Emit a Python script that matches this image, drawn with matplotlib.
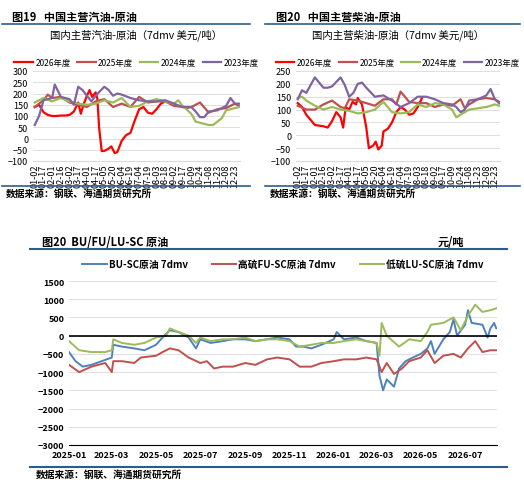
import matplotlib.pyplot as plt
import matplotlib.dates as mdates
import numpy as np
import pandas as pd

plt.rcParams['font.family'] = ['Noto Sans CJK SC', 'DejaVu Sans']

# ---- top charts: x in tick-index units ----
ticks = ['01-02', '01-17', '02-01', '02-16', '03-02', '03-17', '04-01', '04-17', '05-05', '05-20',
         '06-04', '06-19', '07-04', '07-19', '08-03', '08-18', '09-02', '09-17', '10-09', '10-24',
         '11-08', '11-23', '12-08', '12-23']

gas_2026_x = [0, 0.5, 1, 1.5, 2, 2.5, 3, 3.5, 4, 4.5, 5, 5.3, 5.6, 6, 6.3, 6.6, 7, 7.2, 7.4, 7.7, 8, 8.5, 8.8, 9.2, 9.5, 10, 10.5, 11, 11.5, 12, 12.5, 13, 13.5, 14, 14.5, 15]
gas_2026_y = [140, 150, 117, 105, 100, 100, 102, 102, 105, 120, 160, 110, 150, 190, 215, 185, 205, 177, 49, -56, -55, -45, -35, -65, -60, -10, 15, 25, 80, 130, 140, 115, 110, 130, 155, 165]
gas_2025_x = [0, 1, 1.5, 2, 3, 4, 5, 6, 7, 8, 9, 10, 11, 12, 13, 14, 15, 16, 17, 17.5, 18, 19, 20, 21, 22, 23, 23.5]
gas_2025_y = [140, 170, 195, 180, 185, 160, 150, 140, 165, 175, 140, 155, 140, 185, 160, 165, 165, 145, 140, 135, 140, 160, 115, 130, 135, 155, 145]
gas_2024_x = [0, 1, 2, 3, 4, 5, 6, 7, 8, 9, 10, 11, 12, 13, 14, 15, 16, 16.5, 17, 18, 18.5, 19, 19.5, 20, 20.5, 21, 21.5, 22, 23, 23.5]
gas_2024_y = [160, 180, 165, 180, 165, 155, 150, 155, 170, 160, 180, 140, 145, 165, 175, 165, 155, 170, 145, 110, 75, 70, 65, 60, 60, 75, 90, 125, 135, 140]
gas_2023_x = [0, 0.5, 1, 2, 2.3, 3, 4, 4.5, 5, 5.5, 6, 6.5, 7, 8, 8.5, 9, 9.5, 10, 11, 12, 13, 14, 15, 16, 17, 18, 18.5, 19, 19.5, 20, 21, 22, 22.5, 23, 23.5]
gas_2023_y = [60, 100, 170, 180, 240, 185, 175, 150, 230, 215, 190, 165, 190, 230, 215, 190, 200, 195, 180, 170, 165, 165, 170, 155, 140, 140, 120, 95, 95, 120, 125, 145, 180, 155, 155]

die_2026_x = [0, 0.5, 1, 1.5, 2, 3, 3.5, 4, 4.5, 5, 5.3, 5.6, 6, 6.4, 6.8, 7, 7.5, 8, 8.3, 8.8, 9.1, 9.4, 9.8, 10, 10.5, 11, 11.5, 12, 12.5, 13, 13.5, 14, 14.5]
die_2026_y = [125, 110, 80, 60, 40, 35, 30, 55, 90, 70, 30, 110, 100, 130, 120, 145, 120, 30, -50, -40, -25, -55, -40, 15, 25, 50, 90, 110, 100, 80, 85, 110, 145]
die_2025_x = [0, 1, 2, 3, 4, 5, 5.5, 6, 7, 8, 9, 10, 11, 11.5, 12, 13, 14, 15, 16, 17, 18, 19, 19.5, 20, 21, 22, 23, 23.5]
die_2025_y = [115, 100, 100, 120, 135, 110, 105, 140, 135, 125, 115, 140, 140, 120, 170, 130, 125, 125, 110, 120, 115, 140, 105, 120, 140, 145, 140, 130]
die_2024_x = [0, 0.5, 1, 2, 3, 4, 5, 6, 7, 8, 9, 10, 11, 12, 13, 14, 15, 16, 17, 18, 18.5, 19, 20, 21, 22, 23, 23.5]
die_2024_y = [145, 150, 135, 115, 100, 110, 100, 95, 85, 90, 100, 130, 90, 85, 90, 120, 110, 125, 120, 100, 70, 80, 100, 105, 110, 120, 115]
die_2023_x = [0, 0.5, 1, 2, 3, 3.5, 4, 5, 5.5, 6, 6.5, 7, 7.5, 8, 9, 10, 11, 12, 13, 14, 15, 16, 17, 18, 18.5, 19, 19.5, 20, 21, 22, 22.5, 23, 23.5]
die_2023_y = [140, 175, 165, 225, 185, 185, 190, 225, 195, 150, 165, 200, 205, 185, 150, 155, 135, 110, 125, 150, 150, 140, 125, 120, 110, 90, 100, 135, 140, 155, 180, 140, 125]

# ---- bottom chart ----
bu_d = ['2025-01-01', '2025-01-10', '2025-01-20', '2025-02-01', '2025-02-15', '2025-03-01', '2025-03-03', '2025-03-15', '2025-04-01', '2025-04-15', '2025-05-01', '2025-05-10', '2025-05-20', '2025-06-01', '2025-06-15', '2025-06-25', '2025-07-01', '2025-07-15', '2025-08-01', '2025-08-15', '2025-09-01', '2025-09-15', '2025-10-01', '2025-10-15', '2025-11-01', '2025-11-10', '2025-11-20', '2025-12-01', '2025-12-15', '2026-01-01', '2026-01-05', '2026-01-15', '2026-02-01', '2026-02-15', '2026-03-01', '2026-03-05', '2026-03-10', '2026-03-15', '2026-03-25', '2026-04-01', '2026-04-10', '2026-04-20', '2026-05-01', '2026-05-10', '2026-05-15', '2026-05-20', '2026-06-01', '2026-06-10', '2026-06-15', '2026-06-20', '2026-07-01', '2026-07-05', '2026-07-10', '2026-07-25', '2026-08-01', '2026-08-05', '2026-08-10', '2026-08-13']
bu_v = [-450, -700, -850, -800, -700, -600, -250, -300, -350, -400, -250, -50, 150, 100, -50, -350, -100, -200, -150, -100, -100, -150, -100, -50, -100, -300, -300, -350, -250, -100, 100, -100, -50, -150, -200, -1100, -1500, -1200, -1400, -900, -700, -600, -500, -350, -150, -500, -100, 100, 450, 0, 300, 700, 350, 300, -50, 200, 350, 200]
fu_d = ['2025-01-01', '2025-01-15', '2025-02-01', '2025-02-20', '2025-03-01', '2025-03-03', '2025-03-15', '2025-04-01', '2025-04-10', '2025-05-01', '2025-05-10', '2025-05-20', '2025-06-01', '2025-06-15', '2025-07-01', '2025-07-10', '2025-07-20', '2025-08-01', '2025-08-15', '2025-09-01', '2025-09-15', '2025-10-01', '2025-10-15', '2025-11-01', '2025-11-15', '2025-12-01', '2025-12-15', '2026-01-01', '2026-01-15', '2026-02-01', '2026-02-15', '2026-03-01', '2026-03-08', '2026-03-15', '2026-03-25', '2026-04-05', '2026-04-15', '2026-05-01', '2026-05-10', '2026-05-20', '2026-06-01', '2026-06-15', '2026-06-25', '2026-07-05', '2026-07-15', '2026-07-25', '2026-08-05', '2026-08-13']
fu_v = [-800, -1000, -850, -750, -1000, -700, -700, -750, -600, -550, -450, -350, -400, -600, -750, -700, -900, -850, -850, -750, -800, -650, -600, -650, -850, -850, -750, -700, -650, -650, -600, -650, -1000, -750, -1050, -900, -700, -600, -400, -750, -550, -500, -600, -350, -150, -450, -400, -400]
lu_d = ['2025-01-01', '2025-01-15', '2025-02-01', '2025-02-20', '2025-03-01', '2025-03-03', '2025-03-15', '2025-04-01', '2025-04-15', '2025-05-01', '2025-05-15', '2025-05-20', '2025-06-01', '2025-06-15', '2025-06-25', '2025-07-01', '2025-07-15', '2025-08-01', '2025-08-15', '2025-09-01', '2025-09-15', '2025-10-01', '2025-10-15', '2025-11-01', '2025-11-15', '2025-12-01', '2025-12-15', '2026-01-01', '2026-01-15', '2026-02-01', '2026-02-15', '2026-03-01', '2026-03-05', '2026-03-08', '2026-03-15', '2026-04-01', '2026-04-15', '2026-05-01', '2026-05-10', '2026-05-15', '2026-06-01', '2026-06-15', '2026-06-25', '2026-07-05', '2026-07-15', '2026-07-25', '2026-08-05', '2026-08-13']
lu_v = [-150, -400, -450, -450, -400, -100, -200, -250, -200, -50, 0, 200, 100, 0, -200, -50, -150, -100, -100, -50, -150, -100, -100, -150, -300, -250, -200, -200, -150, -100, -150, -200, -550, 350, 0, -300, -100, -150, 100, 300, 350, 500, 150, 550, 850, 650, 700, 750]

RED, BROWN, GREEN, PURPLE, BLUE = '#ff0000', '#c0504d', '#9bbb59', '#8064a2', '#4f81bd'
NAVY = '#2e5c8a'

W, H = 524, 502
fig = plt.figure(figsize=(W / 100, H / 100), dpi=100)


def px_axes(x0, y0, x1, y1):
    return fig.add_axes([x0 / W, 1 - y1 / H, (x1 - x0) / W, (y1 - y0) / H])


def hline(x0, x1, y, lw=2):
    fig.add_artist(plt.Line2D([x0 / W, x1 / W], [1 - y / H, 1 - y / H], color=NAVY, lw=lw))


def top_panel(x0, x1, fig_title, title, series, ylim, yt):
    ax = px_axes(x0, 72, x1, 162)
    for xs, ys, c, lab in series:
        ax.plot(xs, ys, color=c, lw=1.6, label=lab)
    ax.set_ylim(*ylim)
    ax.set_yticks(yt)
    ax.set_xlim(-0.2, 23.6)
    ax.set_xticks(range(len(ticks)))
    ax.set_xticklabels(ticks, rotation=90, fontsize=6.5)
    ax.tick_params(axis='y', labelsize=6.5, length=0)
    ax.tick_params(axis='x', length=0, pad=2)
    ax.grid(axis='y', color='#d9d9d9', lw=0.6)
    for s in ['top', 'right', 'left']:
        ax.spines[s].set_visible(False)
    ax.spines['bottom'].set_color('#d9d9d9')
    ax.set_title(title, fontsize=7.5, pad=24)
    ax.legend(loc='lower center', bbox_to_anchor=(0.5, 1.0), ncol=4, fontsize=6, frameon=False,
              handlelength=2.2, columnspacing=0.8, handletextpad=0.3, borderaxespad=0.1)
    return ax


top_panel(33, 240, '', '国内主营汽油-原油（7dmv 美元/吨）',
          [(gas_2026_x, gas_2026_y, RED, '2026年度'), (gas_2025_x, gas_2025_y, BROWN, '2025年度'),
           (gas_2024_x, gas_2024_y, GREEN, '2024年度'), (gas_2023_x, gas_2023_y, PURPLE, '2023年度')],
          (-100, 300), range(-100, 301, 50))
top_panel(296, 500, '', '国内主营柴油-原油（7dmv 美元/吨）',
          [(die_2026_x, die_2026_y, RED, '2026年度'), (die_2025_x, die_2025_y, BROWN, '2025年度'),
           (die_2024_x, die_2024_y, GREEN, '2024年度'), (die_2023_x, die_2023_y, PURPLE, '2023年度')],
          (-100, 250), range(-100, 251, 50))

fig.text(12 / W, 1 - 17 / H, '图19   中国主营汽油-原油', fontsize=8, weight='bold', va='center')
fig.text(276 / W, 1 - 17 / H, '图20   中国主营柴油-原油', fontsize=8, weight='bold', va='center')
hline(2, 250, 25, 1.2)
hline(265, 520, 25, 1.2)
hline(2, 250, 187, 1.2)
hline(265, 520, 187, 1.2)
fig.text(6 / W, 1 - 194 / H, '数据来源：钢联、海通期货研究所', fontsize=7, weight='bold', va='center')
fig.text(270 / W, 1 - 194 / H, '数据来源：钢联、海通期货研究所', fontsize=7, weight='bold', va='center')

# bottom
ax = px_axes(69, 282, 497, 446)
ax.plot(pd.to_datetime(bu_d), bu_v, color=BLUE, lw=1.4, label='BU-SC原油 7dmv')
ax.plot(pd.to_datetime(fu_d), fu_v, color=BROWN, lw=1.4, label='高硫FU-SC原油 7dmv')
ax.plot(pd.to_datetime(lu_d), lu_v, color=GREEN, lw=1.4, label='低硫LU-SC原油 7dmv')
ax.axhline(0, color='black', lw=1.2)
ax.set_ylim(-3000, 1500)
ax.set_yticks(range(-3000, 1501, 500))
ax.set_xlim(pd.Timestamp('2025-01-01'), pd.Timestamp('2026-08-14'))
ax.xaxis.set_major_locator(mdates.MonthLocator(bymonth=[1, 3, 5, 7, 9, 11]))
ax.xaxis.set_major_formatter(mdates.DateFormatter('%Y-%m'))
ax.tick_params(labelsize=6.5, length=0)
for lab in ax.get_xticklabels() + ax.get_yticklabels():
    lab.set_fontweight('bold')
ax.grid(axis='y', color='#d9d9d9', lw=0.6)
for s in ['top', 'right', 'left']:
    ax.spines[s].set_visible(False)
ax.spines['bottom'].set_color('black')
ax.legend(loc='lower center', bbox_to_anchor=(0.5, 1.02), ncol=3, fontsize=7, frameon=False,
          handlelength=2.5, columnspacing=2.5, handletextpad=0.2, prop={'weight': 'bold', 'size': 7})

fig.text(42 / W, 1 - 242 / H, '图20  BU/FU/LU-SC 原油', fontsize=8, weight='bold', va='center')
fig.text(438 / W, 1 - 242 / H, '元/吨', fontsize=8, weight='bold', va='center')
hline(30, 507, 250, 1.5)
hline(30, 507, 468, 1.5)
fig.text(36 / W, 1 - 475 / H, '数据来源：钢联、海通期货研究所', fontsize=7, weight='bold', va='center')

fig.savefig('out.png', dpi=100)
